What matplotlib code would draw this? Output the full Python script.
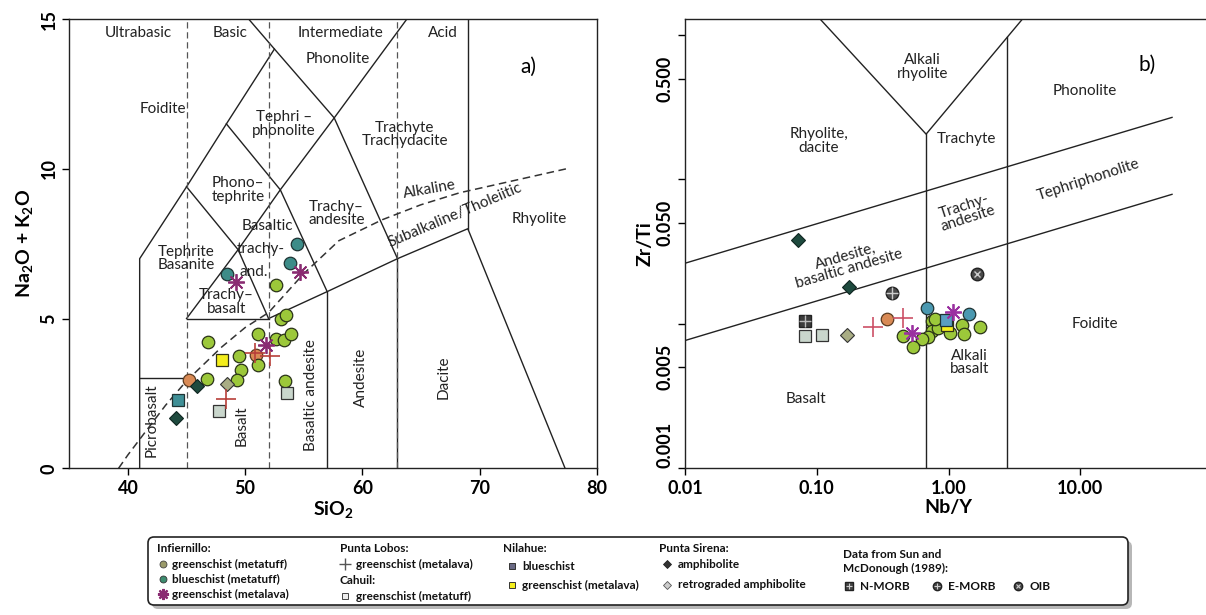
import matplotlib.pyplot as plt
import numpy as np
from matplotlib.patches import FancyBboxPatch

plt.rcParams['font.family'] = ['Lato', 'DejaVu Sans']
plt.rcParams['mathtext.fontset'] = 'custom'
plt.rcParams['mathtext.rm'] = 'Lato:bold'
plt.rcParams['mathtext.it'] = 'Lato:bold'
plt.rcParams['mathtext.bf'] = 'Lato:bold'

# ---------------- a) TAS data (SiO2, Na2O+K2O)
gs_tuff_si = [46.86, 51.06, 49.48, 51.06, 49.63, 49.34, 46.71, 52.6, 53.3, 53.95, 53.1, 53.5, 52.6, 53.4]
gs_tuff_na = [4.22, 4.48, 3.74, 3.44, 3.28, 2.94, 2.97, 4.33, 4.28, 4.5, 5.0, 5.12, 6.11, 2.91]
bs_tuff_si = [54.43, 53.84, 48.49]
bs_tuff_na = [7.5, 6.86, 6.5]
gs_lava_si = [49.25, 54.66, 51.77]
gs_lava_na = [6.22, 6.56, 4.11]
lobos_si = [48.4, 50.8, 52.1]
lobos_na = [2.3, 3.85, 3.75]
nil_bs_si = [44.29]
nil_bs_na = [2.28]
nil_gs_si = [48.06]
nil_gs_na = [3.61]
cahuil_si = [47.77, 53.55]
cahuil_na = [1.91, 2.5]
amph_si = [44.06, 45.86]
amph_na = [1.69, 2.74]
retro_si = [48.43]
retro_na = [2.81]
other_si = [45.2, 50.9]
other_na = [2.94, 3.8]

# ---------------- b) Nb/Y vs Zr/Ti data
gs_tuff_nb = [0.746, 0.746, 0.697, 0.627, 0.542, 0.455, 0.838, 1.03, 1.26, 1.30, 1.74, 0.79]
gs_tuff_zr = [0.0104, 0.00895, 0.0081, 0.0078, 0.00687, 0.00826, 0.0093, 0.0087, 0.0098, 0.0085, 0.0095, 0.0108]
bs_tuff_nb = [0.684, 1.44]
bs_tuff_zr = [0.0128, 0.0117]
gs_lava_nb = [0.526, 1.09]
gs_lava_zr = [0.0087, 0.0121]
lobos_nb = [0.269, 0.455]
lobos_zr = [0.0095, 0.011]
nil_bs_nb = [0.955]
nil_bs_zr = [0.0106]
nil_gs_nb = [0.98]
nil_gs_zr = [0.0099]
cahuil_nb = [0.0815, 0.110]
cahuil_zr = [0.00826, 0.0084]
amph_nb = [0.072, 0.176]
amph_zr = [0.0379, 0.018]
retro_nb = [0.169]
retro_zr = [0.0084]
nmorb_nb, nmorb_zr = [0.0815], [0.0105]
emorb_nb, emorb_zr = [0.375], [0.0163]
oib_nb, oib_zr = [1.64], [0.022]
other_nb, other_zr = [0.344], [0.0108]

# ---------------- field boundaries
tas_solid = [
    [(41, 0), (41, 7), (45, 9.4), (48.4, 11.5), (52.5, 14), (50.3, 15)],
    [(41, 3), (45, 3)],
    [(45, 5), (52, 5)],
    [(45, 5), (49.4, 7.3), (52, 5)],
    [(45, 9.4), (49.4, 7.3), (53, 9.3), (57, 5.9)],
    [(48.4, 11.5), (53, 9.3), (57.6, 11.7), (63, 7)],
    [(52.5, 14), (57.6, 11.7), (63.8, 15)],
    [(57, 0), (57, 5.9)],
    [(52, 5), (57, 5.9), (63, 7), (69, 8), (77.3, 0)],
    [(69, 8), (69, 15)],
    [(63, 0), (63, 7)],
]
tas_dashed_x = [45, 52, 63]
alk_si = [39.2, 40, 43.2, 45, 48, 50, 52, 55, 58, 61.7, 65, 68.3, 77.4]
alk_na = [0, 0.45, 2.1, 2.92, 4.05, 4.7, 5.2, 6.5, 7.6, 8.3, 8.8, 9.2, 10]

wf_lines = [
    [(0.01, 0.0263), (49.7, 0.269)],
    [(0.01, 0.00767), (49.7, 0.0789)],
    [(0.106, 1.29), (0.676, 0.206), (3.64, 1.29)],
    [(0.676, 0.206), (0.676, 0.001)],
    [(2.8, 0.97), (2.8, 0.001)],
]

fig = plt.figure(figsize=(12.06, 6.15), dpi=100)
axa = fig.add_axes([0.0575, 0.2385, 0.4373, 0.7305])
axb = fig.add_axes([0.568, 0.2385, 0.437, 0.7305])

lc = '#222222'
for seg in tas_solid:
    xs, ys = zip(*seg)
    axa.plot(xs, ys, color=lc, lw=1.0, zorder=1)
for x in tas_dashed_x:
    axa.plot([x, x], [0, 15], color='#555555', lw=0.9, ls=(0, (5, 3)), zorder=1)
axa.plot(alk_si, alk_na, color='#333333', lw=1.1, ls=(0, (5, 3)), zorder=1)

# styles
st = dict(
    gs_tuff=dict(marker='o', ms=9, mfc='#9cc83a', mec='#2a3318', mew=0.9, ls='none'),
    bs_tuff=dict(marker='o', ms=9, mfc='#3d8c88', mec='#1f3333', mew=0.9, ls='none'),
    gs_lava=dict(marker=(8, 2, 0), ms=12, mec='#8a2c72', mew=1.3, ls='none'),
    lobos=dict(marker='+', ms=14, mec='#b8403a', mew=1.2, ls='none'),
    nil_bs=dict(marker='s', ms=9, mfc='#3f8f96', mec='#1f3333', mew=0.9, ls='none'),
    nil_gs=dict(marker='s', ms=9, mfc='#f4ee1c', mec='#333318', mew=0.9, ls='none'),
    cahuil=dict(marker='s', ms=9, mfc='#c9d6cc', mec='#333333', mew=0.9, ls='none'),
    amph=dict(marker='D', ms=7, mfc='#1e4a3e', mec='#0f2520', mew=0.8, ls='none'),
    retro=dict(marker='D', ms=7, mfc='#a9ad84', mec='#333333', mew=0.8, ls='none'),
    other=dict(marker='o', ms=9, mfc='#d98a55', mec='#5a3a20', mew=0.9, ls='none'),
)

axa.plot(other_si, other_na, **st['other'], zorder=3)
axa.plot(gs_tuff_si, gs_tuff_na, **st['gs_tuff'], zorder=3)
axa.plot(bs_tuff_si, bs_tuff_na, **st['bs_tuff'], zorder=3)
axa.plot(nil_bs_si, nil_bs_na, **st['nil_bs'], zorder=3)
axa.plot(nil_gs_si, nil_gs_na, **st['nil_gs'], zorder=3)
axa.plot(cahuil_si, cahuil_na, **st['cahuil'], zorder=3)
axa.plot(amph_si, amph_na, **st['amph'], zorder=3)
axa.plot(retro_si, retro_na, **st['retro'], zorder=3)
axa.plot(lobos_si, lobos_na, **st['lobos'], zorder=4)
axa.plot(gs_lava_si, gs_lava_na, **st['gs_lava'], zorder=4)

fs = 11
ta = dict(fontsize=fs, color='#222222', ha='center', va='center', zorder=2)
axa.text(40.9, 14.55, 'Ultrabasic', **ta)
axa.text(48.7, 14.55, 'Basic', **ta)
axa.text(58.1, 14.55, 'Intermediate', **ta)
axa.text(66.85, 14.55, 'Acid', **ta)
axa.text(57.9, 13.65, 'Phonolite', **ta)
axa.text(74.2, 13.4, 'a)', fontsize=15, ha='center', va='center')
axa.text(43.0, 12.0, 'Foidite', **ta)
axa.text(53.3, 11.5, 'Tephri –\nphonolite', linespacing=0.95, **ta)
axa.text(63.6, 11.15, 'Trachyte\nTrachydacite', linespacing=0.95, **ta)
axa.text(49.4, 9.3, 'Phono–\ntephrite', linespacing=0.95, **ta)
axa.text(57.8, 8.5, 'Trachy–\nandesite', linespacing=0.95, **ta)
axa.text(51.9, 8.08, 'Basaltic', **ta)
axa.text(51.3, 7.33, 'trachy-', **ta)
axa.text(50.7, 6.56, 'and.', **ta)
axa.text(45.0, 7.0, 'Tephrite\nBasanite', linespacing=0.95, **ta)
axa.text(48.4, 5.56, 'Trachy–\nbasalt', linespacing=0.95, **ta)
axa.text(75.1, 8.33, 'Rhyolite', **ta)
axa.text(65.7, 9.3, 'Alkaline', rotation=10, **ta)
axa.text(67.9, 8.45, 'Subalkaline/Tholeiitic', rotation=23, **ta)
axa.text(42.0, 1.6, 'Picrobasalt', rotation=90, **ta)
axa.text(49.7, 1.44, 'Basalt', rotation=90, **ta)
axa.text(55.6, 2.44, 'Basaltic andesite', rotation=90, **ta)
axa.text(59.9, 3.05, 'Andesite', rotation=90, **ta)
axa.text(66.95, 3.05, 'Dacite', rotation=90, **ta)

axa.set_xlim(35, 80)
axa.set_ylim(0, 15)
axa.set_xticks([40, 50, 60, 70, 80])
axa.set_yticks([0, 5, 10, 15])
axa.tick_params(direction='out', length=5, width=1, labelsize=13)
for lab in axa.get_xticklabels() + axa.get_yticklabels():
    lab.set_fontweight('bold')
for lab in axa.get_yticklabels():
    lab.set_rotation(90)
    lab.set_va('center')
axa.set_xlabel('SiO$_2$', fontsize=14, fontweight='bold', labelpad=1)
axa.set_ylabel('Na$_2$O + K$_2$O', fontsize=14, fontweight='bold', labelpad=4)
for sp in axa.spines.values():
    sp.set_linewidth(1.0)
    sp.set_color('#222222')

# ---------------- b)
for seg in wf_lines:
    xs, ys = zip(*seg)
    axb.plot(xs, ys, color=lc, lw=1.0, zorder=1)

for k, (x, y) in dict(gs_tuff=(gs_tuff_nb, gs_tuff_zr), other=(other_nb, other_zr),
                      cahuil=(cahuil_nb, cahuil_zr), retro=(retro_nb, retro_zr),
                      amph=(amph_nb, amph_zr)).items():
    axb.plot(x, y, **st[k], zorder=3)
axb.plot(bs_tuff_nb, bs_tuff_zr, **dict(st['bs_tuff'], mfc='#4a98b0'), zorder=3)
axb.plot(nil_gs_nb, nil_gs_zr, **st['nil_gs'], zorder=3)
axb.plot(nil_bs_nb, nil_bs_zr, **dict(st['nil_bs'], mfc='#5a9ec0'), zorder=3)
axb.plot(nmorb_nb, nmorb_zr, marker='s', ms=9, mfc='#3c3c3c', mec='#222222', ls='none', zorder=3)
axb.plot(nmorb_nb, nmorb_zr, marker='+', ms=8, mec='#bbbbbb', mew=1, ls='none', zorder=3)
axb.plot(emorb_nb, emorb_zr, marker='o', ms=9, mfc='#4a4a4a', mec='#222222', ls='none', zorder=3)
axb.plot(emorb_nb, emorb_zr, marker='+', ms=9, mec='#cccccc', mew=1, ls='none', zorder=3)
axb.plot(oib_nb, oib_zr, marker='o', ms=9, mfc='#4a4a4a', mec='#222222', ls='none', zorder=3)
axb.plot(oib_nb, oib_zr, marker='x', ms=5, mec='#cccccc', mew=1, ls='none', zorder=3)
axb.plot(lobos_nb, lobos_zr, **dict(st['lobos'], mec='#cc5066'), zorder=4)
axb.plot(gs_lava_nb, gs_lava_zr, **dict(st['gs_lava'], mec='#9a30a0'), zorder=4)

axb.text(0.63, 0.60, 'Alkali\nrhyolite', linespacing=0.95, **ta)
axb.text(32.4, 0.62, 'b)', fontsize=15, ha='center', va='center')
axb.text(10.8, 0.41, 'Phonolite', **ta)
axb.text(0.104, 0.185, 'Rhyolite,\ndacite', linespacing=0.95, **ta)
axb.text(1.37, 0.192, 'Trachyte', **ta)
axb.text(11.6, 0.1, 'Tephriphonolite', rotation=18, **ta)
axb.text(1.36, 0.059, 'Trachy-\nandesite', rotation=18, linespacing=0.95, **ta)
axb.text(0.171, 0.0266, 'Andesite,\nbasaltic andesite', rotation=16, linespacing=0.95, **ta)
axb.text(12.8, 0.01, 'Foidite', **ta)
axb.text(1.44, 0.0054, 'Alkali\nbasalt', linespacing=0.95, **ta)
axb.text(0.083, 0.0030, 'Basalt', **ta)

axb.set_xscale('log')
axb.set_yscale('log')
axb.set_xlim(0.01, 100)
axb.set_ylim(0.001, 1.29)
axb.set_xticks([0.01, 0.1, 1, 10])
axb.set_xticklabels(['0.01', '0.10', '1.00', '10.00'])
axb.set_yticks([0.001, 0.005, 0.01, 0.05, 0.1, 0.5, 1])
axb.set_yticklabels(['0.001', '0.005', '', '0.050', '', '0.500', ''])
axb.minorticks_off()
axb.tick_params(direction='out', length=5, width=1, labelsize=13)
for lab in axb.get_xticklabels() + axb.get_yticklabels():
    lab.set_fontweight('bold')
for lab in axb.get_yticklabels():
    lab.set_rotation(90)
    lab.set_va('center')
axb.get_yticklabels()[0].set_va('bottom')
axb.set_xlabel('Nb/Y', fontsize=14, fontweight='bold', labelpad=1)
axb.set_ylabel('Zr/Ti', fontsize=14, fontweight='bold', labelpad=2)
for sp in axb.spines.values():
    sp.set_linewidth(1.0)
    sp.set_color('#222222')

# ---------------- legend box
axl = fig.add_axes([0, 0, 1, 1])
axl.set_xlim(0, 1206)
axl.set_ylim(615, 0)
axl.axis('off')
axl.patch.set_alpha(0)
axl.add_patch(FancyBboxPatch((152, 541), 980, 68, boxstyle='round,pad=0,rounding_size=6',
                             fc='#888888', ec='none', alpha=0.6, zorder=0))
axl.add_patch(FancyBboxPatch((148, 537), 980, 68, boxstyle='round,pad=0,rounding_size=6',
                             fc='white', ec='#222222', lw=1.2, zorder=1))
lt = dict(fontsize=8.5, fontweight='bold', color='#111111', va='center', ha='left', zorder=3)
lm = dict(zorder=3)
axl.text(157, 549, 'Infiernillo:', **lt)
axl.plot(163, 564, marker='o', ms=5, mfc='#9a9a6a', mec='#444444', mew=0.6, **lm)
axl.text(172, 564, 'greenschist (metatuff)', **lt)
axl.plot(163, 579, marker='o', ms=5, mfc='#3d8c70', mec='#333333', mew=0.6, **lm)
axl.text(172, 579, 'blueschist (metatuff)', **lt)
axl.plot(163, 594, marker=(8, 2, 0), ms=8, mec='#8a2c72', mew=1.6, **lm)
axl.text(172, 594, 'greenschist (metalava)', **lt)

axl.text(340, 549, 'Punta Lobos:', **lt)
axl.plot(345, 564, marker='+', ms=9, mec='#555555', mew=1.0, **lm)
axl.text(356, 564, 'greenschist (metalava)', **lt)
axl.text(340, 580, 'Cahuil:', **lt)
axl.plot(345, 596, marker='s', ms=5, mfc='#eeeeee', mec='#444444', mew=0.7, **lm)
axl.text(356, 596, 'greenschist (metatuff)', **lt)

axl.text(503, 549, 'Nilahue:', **lt)
axl.plot(512, 566, marker='s', ms=5, mfc='#6a6a85', mec='#333333', mew=0.7, **lm)
axl.text(522, 566, 'blueschist', **lt)
axl.plot(512, 585, marker='s', ms=5, mfc='#f4ee1c', mec='#333333', mew=0.7, **lm)
axl.text(522, 585, 'greenschist (metalava)', **lt)

axl.text(659, 549, 'Punta Sirena:', **lt)
axl.plot(667, 564, marker='D', ms=4.5, mfc='#333333', mec='#222222', mew=0.6, **lm)
axl.text(678, 564, 'amphibolite', **lt)
axl.plot(667, 585, marker='D', ms=4.5, mfc='#cccccc', mec='#555555', mew=0.6, **lm)
axl.text(678, 585, 'retrograded amphibolite', **lt)

axl.text(843, 555, 'Data from Sun and', **lt)
axl.text(843, 568, 'McDonough (1989):', **lt)
axl.plot(849, 586, marker='s', ms=6, mfc='#444444', mec='#222222', **lm)
axl.plot(849, 586, marker='+', ms=5, mec='#cccccc', mew=0.8, **lm)
axl.text(860, 586, 'N-MORB', **lt)
axl.plot(937, 586, marker='o', ms=6, mfc='#444444', mec='#222222', **lm)
axl.plot(937, 586, marker='+', ms=5, mec='#cccccc', mew=0.8, **lm)
axl.text(948, 586, 'E-MORB', **lt)
axl.plot(1018, 586, marker='o', ms=6, mfc='#444444', mec='#222222', **lm)
axl.plot(1018, 586, marker='x', ms=3.5, mec='#cccccc', mew=0.8, **lm)
axl.text(1029, 586, 'OIB', **lt)

fig.savefig('out.png', dpi=100)
